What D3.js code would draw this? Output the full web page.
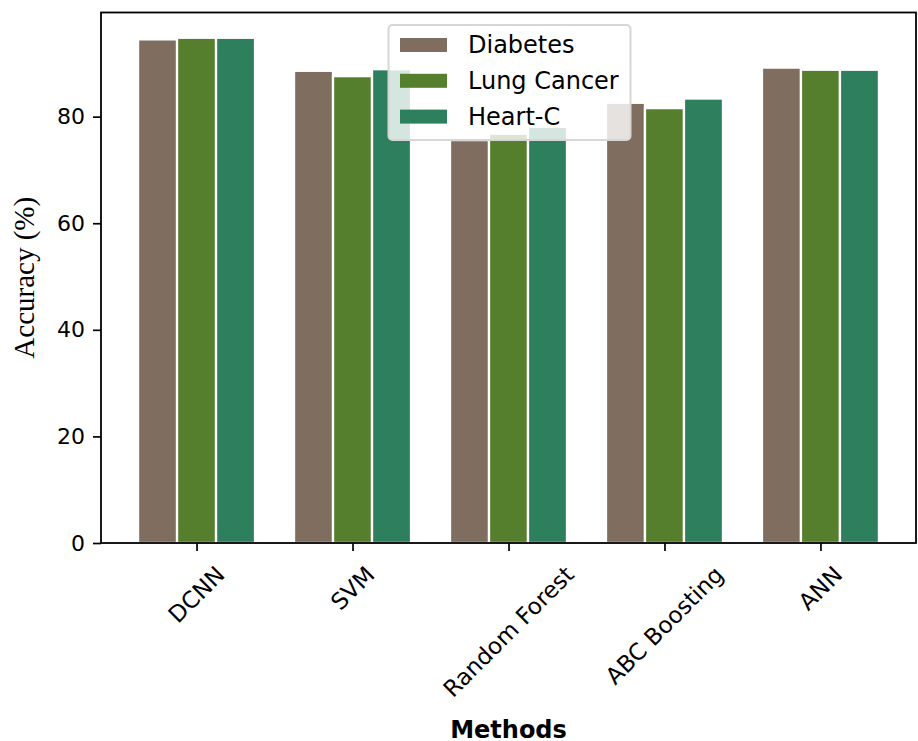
<!DOCTYPE html>
<html>
<head>
<meta charset="utf-8">
<script src="https://d3js.org/d3.v7.min.js"></script>
<style>
  body { margin: 0; background: #fff; }
  text { font-family: "DejaVu Sans", sans-serif; fill: #000; }
</style>
</head>
<body>
<script>
// chart data
var methods = ["DCNN", "SVM", "Random Forest", "ABC Boosting", "ANN"];
var seriesNames = ["Diabetes", "Lung Cancer", "Heart-C"];
var diabetes = [94.5, 88.6, 75.6, 82.6, 89.2];
var lungCancer = [94.8, 87.6, 76.8, 81.6, 88.8];
var heartC = [94.8, 88.9, 78.1, 83.4, 88.8];
var colors = ["#7f6d5f", "#557f2d", "#2d7f5e"];
var yTicks = [0, 20, 40, 60, 80];

var series = [diabetes, lungCancer, heartC];
var barW = 0.25;

var width = 918, height = 741;
var plotLeft = 101, plotRight = 916, plotTop = 12.5, plotBottom = 543;

var svg = d3.select("body").append("svg")
  .attr("width", width)
  .attr("height", height);

var x = d3.scaleLinear()
  .domain([-0.6125, methods.length - 1 + 0.6125])
  .range([plotLeft, plotRight]);

var yMax = d3.max(series, function (s) { return d3.max(s); }) * 1.05;
var y = d3.scaleLinear()
  .domain([0, yMax])
  .range([plotBottom, plotTop]);

// bars
series.forEach(function (s, si) {
  svg.append("g").selectAll("rect")
    .data(s)
    .enter()
    .append("rect")
    .attr("x", function (d, i) { return x(i + (si - 1) * barW - barW / 2); })
    .attr("width", x(barW) - x(0))
    .attr("y", function (d) { return y(d); })
    .attr("height", function (d) { return y(0) - y(d); })
    .attr("fill", colors[si])
    .attr("stroke", "#fff")
    .attr("stroke-width", 2.3);
});

// y axis
var yAxis = svg.append("g")
  .attr("transform", "translate(" + plotLeft + ",0)")
  .call(d3.axisLeft(y).tickValues(yTicks).tickSize(8).tickPadding(8).tickFormat(d3.format("d")));
yAxis.select(".domain").remove();
yAxis.selectAll("line").attr("stroke", "#000").attr("stroke-width", 1.7);
yAxis.selectAll("text").style("font-size", "22px").attr("font-family", "DejaVu Sans");

// x axis
var xAxis = svg.append("g")
  .attr("transform", "translate(0," + plotBottom + ")")
  .call(d3.axisBottom(x).tickValues(d3.range(methods.length)).tickSize(8).tickFormat(""));
xAxis.select(".domain").remove();
xAxis.selectAll("line").attr("stroke", "#000").attr("stroke-width", 1.7);

// rotated tick labels, bounding box centred on tick, top at fixed line
var fs = 23;
var labelTop = 561;
methods.forEach(function (m, i) {
  var t = svg.append("text")
    .text(m)
    .style("font-size", fs + "px")
    .attr("text-anchor", "middle")
    .attr("dominant-baseline", "central");
  var L = t.node().getComputedTextLength();
  var h = fs * 1.16;
  var cy = labelTop + (L + h) / (2 * Math.SQRT2);
  var cx = x(i);
  t.attr("x", cx).attr("y", cy)
    .attr("transform", "rotate(-45," + cx + "," + cy + ")");
});

// frame
svg.append("rect")
  .attr("x", plotLeft).attr("y", plotTop)
  .attr("width", plotRight - plotLeft).attr("height", plotBottom - plotTop)
  .attr("fill", "none")
  .attr("stroke", "#000")
  .attr("stroke-width", 1.8);

// axis titles
svg.append("text")
  .attr("transform", "translate(24," + ((plotTop + plotBottom) / 2) + ") rotate(-90)")
  .attr("text-anchor", "middle")
  .attr("dominant-baseline", "central")
  .style("font-family", "'Liberation Serif', serif")
  .style("font-size", "29px")
  .text("Accuracy (%)");

svg.append("text")
  .attr("x", (plotLeft + plotRight) / 2)
  .attr("y", 738)
  .attr("text-anchor", "middle")
  .style("font-size", "24px")
  .style("font-weight", "bold")
  .text("Methods");

// legend
var lg = svg.append("g");
lg.append("rect")
  .attr("x", 388.5).attr("y", 25)
  .attr("width", 242).attr("height", 115)
  .attr("rx", 4)
  .attr("fill", "#fff")
  .attr("fill-opacity", 0.8)
  .attr("stroke", "#d6d6d6")
  .attr("stroke-width", 2);

var rows = lg.selectAll("g.row")
  .data(seriesNames)
  .enter()
  .append("g")
  .attr("transform", function (d, i) { return "translate(0," + (45 + i * 35.8) + ")"; });
rows.append("rect")
  .attr("x", 400).attr("y", -7)
  .attr("width", 47).attr("height", 14)
  .attr("fill", function (d, i) { return colors[i]; });
rows.append("text")
  .attr("x", 468)
  .attr("y", 0)
  .attr("dominant-baseline", "central")
  .style("font-size", "24px")
  .text(function (d) { return d; });
</script>
</body>
</html>
